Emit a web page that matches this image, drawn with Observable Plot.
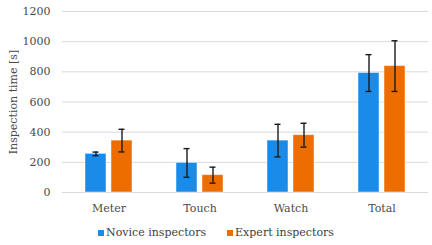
<!DOCTYPE html>
<html>
<head>
<meta charset="utf-8">
<script src="https://cdn.jsdelivr.net/npm/d3@7"></script>
<script src="https://cdn.jsdelivr.net/npm/@observablehq/plot@0.6"></script>
<style>
  html, body { margin: 0; padding: 0; background: #fff; }
  #chart { width: 432px; }
  .legend {
    display: flex; justify-content: center; gap: 21px;
    font: 11px "DejaVu Serif", serif; color: #404040;
    height: 27px; align-items: center; margin-top: 0px;
  }
  .legend span { display: inline-flex; align-items: center; }
  .legend i { display: inline-block; width: 6px; height: 6px; margin-right: 2px; }
</style>
</head>
<body>
<div id="chart"></div>
<script>
// Mean inspection time per task, with standard deviation as error bars
const categories = ["Meter", "Touch", "Watch", "Total"];
const series = ["Novice inspectors", "Expert inspectors"];
const colors = ["#1a8be8", "#ee6d00"];
const noviceMean = [256, 196, 344, 792];
const noviceSd = [12, 95, 108, 122];
const expertMean = [344, 115, 380, 838];
const expertSd = [75, 53, 79, 168];
const yTicks = [0, 200, 400, 600, 800, 1000, 1200];

const rows = [];
categories.forEach((c, i) => {
  rows.push({category: c, series: series[0], value: noviceMean[i], sd: noviceSd[i]});
  rows.push({category: c, series: series[1], value: expertMean[i], sd: expertSd[i]});
});
const novice = rows.filter(d => d.series === series[0]);
const expert = rows.filter(d => d.series === series[1]);

const font = '"DejaVu Serif", serif';
const errStyle = {stroke: "#1a1a1a", strokeWidth: 1.4};
const capInset = 20.5; // leaves a short cap centred on the group band

function errorBars(data, offset) {
  return [
    Plot.ruleX(data, {x: "category", y1: d => d.value - d.sd, y2: d => d.value + d.sd, dx: offset, ...errStyle}),
    Plot.tickY(data, {x: "category", y: d => d.value - d.sd, dx: offset, insetLeft: capInset, insetRight: capInset, ...errStyle}),
    Plot.tickY(data, {x: "category", y: d => d.value + d.sd, dx: offset, insetLeft: capInset, insetRight: capInset, ...errStyle})
  ];
}

const chart = Plot.plot({
  width: 432,
  height: 219,
  marginTop: 11,
  marginBottom: 27,
  marginLeft: 62,
  marginRight: 4,
  style: {fontFamily: font, fontSize: "11px", color: "#4a4a4a", background: "#fff"},
  x: {domain: categories, paddingInner: 0.486, paddingOuter: 0.243, label: null, tickSize: 0, tickPadding: 12},
  y: {
    domain: [0, 1200], ticks: yTicks, tickSize: 0, tickPadding: 12, tickFormat: d => String(d),
    label: "Inspection time [s]", labelAnchor: "center", labelOffset: 53, labelArrow: "none"
  },
  color: {domain: series, range: colors},
  marks: [
    Plot.ruleY(yTicks, {stroke: "#d9d9d9", strokeWidth: 1}),
    Plot.barY(novice, {x: "category", y: "value", fill: "series", insetRight: 26, stroke: "#ffffff", strokeOpacity: 0.45, strokeWidth: 1}),
    Plot.barY(expert, {x: "category", y: "value", fill: "series", insetLeft: 26, stroke: "#ffffff", strokeOpacity: 0.45, strokeWidth: 1}),
    ...errorBars(novice, -13),
    ...errorBars(expert, 13)
  ]
});
document.getElementById("chart").appendChild(chart);

const legend = document.createElement("div");
legend.className = "legend";
series.forEach((s, i) => {
  const item = document.createElement("span");
  const sw = document.createElement("i");
  sw.style.background = colors[i];
  item.appendChild(sw);
  item.appendChild(document.createTextNode(s));
  legend.appendChild(item);
});
document.getElementById("chart").appendChild(legend);
</script>
</body>
</html>
